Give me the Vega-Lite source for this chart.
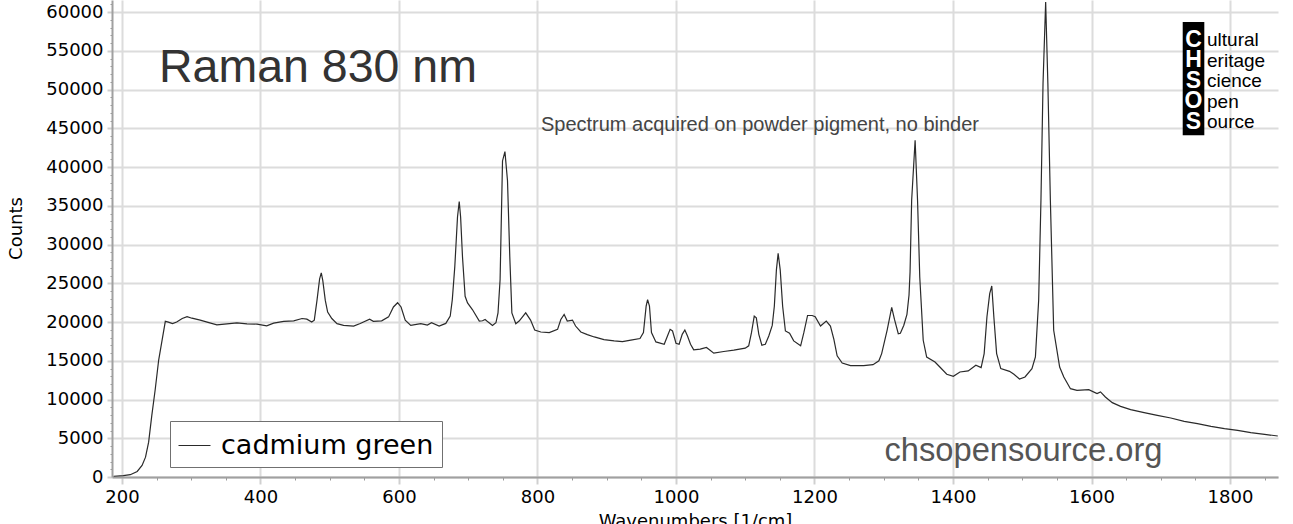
{
  "$schema": "https://vega.github.io/schema/vega-lite/v6.json",
  "width": 1166,
  "height": 477,
  "autosize": {"type": "none"},
  "padding": {"left": 112, "top": 0, "right": 15, "bottom": 47},
  "background": "white",
  "config": {"view": {"stroke": null}},
  "data": {
    "values": [
      {"w": 188, "c": 100}, {"w": 202, "c": 170}, {"w": 212, "c": 300}, {"w": 222, "c": 720},
      {"w": 229, "c": 1500}, {"w": 234, "c": 2560}, {"w": 238.5, "c": 4500}, {"w": 243, "c": 7900},
      {"w": 248, "c": 11300}, {"w": 253, "c": 15100}, {"w": 258, "c": 17700}, {"w": 262.6, "c": 20100},
      {"w": 267, "c": 20000}, {"w": 273, "c": 19800}, {"w": 279, "c": 20000}, {"w": 287, "c": 20460},
      {"w": 294, "c": 20700}, {"w": 301, "c": 20500}, {"w": 313, "c": 20250}, {"w": 323, "c": 20000},
      {"w": 337, "c": 19650}, {"w": 351.6, "c": 19780}, {"w": 366, "c": 19900}, {"w": 380.5, "c": 19780},
      {"w": 395, "c": 19740}, {"w": 409, "c": 19520}, {"w": 419, "c": 19870}, {"w": 433.5, "c": 20080},
      {"w": 448, "c": 20160}, {"w": 460, "c": 20460}, {"w": 467, "c": 20380}, {"w": 474, "c": 20000},
      {"w": 477.7, "c": 20250}, {"w": 481.6, "c": 22800}, {"w": 485.4, "c": 25580}, {"w": 487.8, "c": 26350},
      {"w": 490, "c": 25360}, {"w": 493.6, "c": 22800}, {"w": 497, "c": 21300}, {"w": 503, "c": 20460},
      {"w": 510.5, "c": 19800}, {"w": 520, "c": 19570}, {"w": 534.5, "c": 19480}, {"w": 544, "c": 19820},
      {"w": 557.6, "c": 20380}, {"w": 563, "c": 20100}, {"w": 575, "c": 20160}, {"w": 585, "c": 20670},
      {"w": 592, "c": 21950}, {"w": 598, "c": 22500}, {"w": 603, "c": 21950}, {"w": 609, "c": 20250},
      {"w": 617, "c": 19570}, {"w": 631.5, "c": 19790}, {"w": 641, "c": 19620}, {"w": 647, "c": 19910},
      {"w": 658, "c": 19490}, {"w": 667.6, "c": 19830}, {"w": 674, "c": 20770}, {"w": 677, "c": 22900},
      {"w": 680.6, "c": 27160}, {"w": 684.5, "c": 33560}, {"w": 687, "c": 35560}, {"w": 689, "c": 33560},
      {"w": 691.7, "c": 28440}, {"w": 695.5, "c": 23330}, {"w": 699, "c": 22470}, {"w": 706, "c": 21620},
      {"w": 716, "c": 20130}, {"w": 720.6, "c": 20170}, {"w": 724.4, "c": 20340}, {"w": 728.8, "c": 20000},
      {"w": 735, "c": 19570}, {"w": 740, "c": 19910}, {"w": 743, "c": 21190}, {"w": 746, "c": 25460},
      {"w": 749.5, "c": 40800}, {"w": 753, "c": 42000}, {"w": 756.7, "c": 38250}, {"w": 760, "c": 28440},
      {"w": 763, "c": 21190}, {"w": 768.7, "c": 19790}, {"w": 773.5, "c": 20130}, {"w": 783, "c": 21190},
      {"w": 790, "c": 20260}, {"w": 796, "c": 18980}, {"w": 804.8, "c": 18720}, {"w": 817, "c": 18640},
      {"w": 829, "c": 19060}, {"w": 833.7, "c": 20340}, {"w": 838.5, "c": 20980}, {"w": 843, "c": 20130},
      {"w": 850.5, "c": 20260}, {"w": 855, "c": 19490}, {"w": 862.6, "c": 18720}, {"w": 872, "c": 18380},
      {"w": 882, "c": 18080}, {"w": 896, "c": 17740}, {"w": 910.7, "c": 17570}, {"w": 922.7, "c": 17480},
      {"w": 934.8, "c": 17660}, {"w": 948, "c": 17870}, {"w": 953, "c": 18640}, {"w": 956.9, "c": 22050},
      {"w": 959, "c": 22900}, {"w": 961.7, "c": 22050}, {"w": 964.6, "c": 18640}, {"w": 971, "c": 17440},
      {"w": 983, "c": 17140}, {"w": 987.7, "c": 18210}, {"w": 991.5, "c": 19060}, {"w": 995, "c": 18850},
      {"w": 1000, "c": 17270}, {"w": 1004.5, "c": 17140}, {"w": 1009, "c": 18420}, {"w": 1012.8, "c": 18980},
      {"w": 1016.6, "c": 18210}, {"w": 1021, "c": 17140}, {"w": 1025.6, "c": 16420}, {"w": 1035, "c": 16500},
      {"w": 1044, "c": 16720}, {"w": 1054.6, "c": 15990}, {"w": 1069, "c": 16200}, {"w": 1083.5, "c": 16370},
      {"w": 1100, "c": 16630}, {"w": 1105, "c": 16930}, {"w": 1109, "c": 18630}, {"w": 1113, "c": 20770},
      {"w": 1116, "c": 20550}, {"w": 1119.6, "c": 18420}, {"w": 1124, "c": 17010}, {"w": 1129, "c": 17140},
      {"w": 1134, "c": 18210}, {"w": 1139, "c": 19570}, {"w": 1142, "c": 22050}, {"w": 1145, "c": 26740},
      {"w": 1147.5, "c": 28870}, {"w": 1150.5, "c": 26740}, {"w": 1154, "c": 22050}, {"w": 1158, "c": 18850},
      {"w": 1164, "c": 18550}, {"w": 1170, "c": 17570}, {"w": 1180, "c": 16930}, {"w": 1184.6, "c": 18630},
      {"w": 1190, "c": 20850}, {"w": 1196.6, "c": 20850}, {"w": 1201, "c": 20680}, {"w": 1208.7, "c": 19490},
      {"w": 1217, "c": 20130}, {"w": 1223, "c": 19490}, {"w": 1228, "c": 17780}, {"w": 1232.7, "c": 15650},
      {"w": 1240, "c": 14710}, {"w": 1252, "c": 14370}, {"w": 1271, "c": 14370}, {"w": 1284.5, "c": 14500},
      {"w": 1293, "c": 15010}, {"w": 1297, "c": 15930}, {"w": 1305, "c": 19000}, {"w": 1311.5, "c": 21900},
      {"w": 1315.5, "c": 20340}, {"w": 1321, "c": 18500}, {"w": 1324, "c": 18550}, {"w": 1329, "c": 19600},
      {"w": 1333.5, "c": 21000}, {"w": 1336.5, "c": 23500}, {"w": 1338, "c": 26500}, {"w": 1340.3, "c": 35720},
      {"w": 1345.3, "c": 43470}, {"w": 1348.8, "c": 35720}, {"w": 1352, "c": 25820}, {"w": 1357, "c": 17650},
      {"w": 1362, "c": 15490}, {"w": 1374, "c": 14850}, {"w": 1381, "c": 14200}, {"w": 1391, "c": 13260},
      {"w": 1400.5, "c": 13000}, {"w": 1410, "c": 13560}, {"w": 1422, "c": 13690}, {"w": 1433, "c": 14420},
      {"w": 1440.6, "c": 14120}, {"w": 1445, "c": 15930}, {"w": 1449, "c": 20660}, {"w": 1453, "c": 23670},
      {"w": 1456, "c": 24660}, {"w": 1459, "c": 20660}, {"w": 1463, "c": 15930}, {"w": 1469, "c": 13990},
      {"w": 1481.6, "c": 13640}, {"w": 1488, "c": 13260}, {"w": 1496, "c": 12650}, {"w": 1504, "c": 12910},
      {"w": 1514, "c": 13990}, {"w": 1519, "c": 15490}, {"w": 1523.7, "c": 22810}, {"w": 1527, "c": 35720},
      {"w": 1530, "c": 50790}, {"w": 1533.8, "c": 61330}, {"w": 1537, "c": 50790}, {"w": 1540.6, "c": 35720},
      {"w": 1545.4, "c": 18940}, {"w": 1554, "c": 14200}, {"w": 1560, "c": 12910}, {"w": 1569.6, "c": 11400},
      {"w": 1579, "c": 11190}, {"w": 1596, "c": 11280}, {"w": 1608, "c": 10760}, {"w": 1613, "c": 10980},
      {"w": 1620, "c": 10330}, {"w": 1630, "c": 9600}, {"w": 1642, "c": 9120}, {"w": 1656.5, "c": 8690},
      {"w": 1676, "c": 8310}, {"w": 1695, "c": 7960}, {"w": 1714.5, "c": 7620}, {"w": 1733.8, "c": 7190},
      {"w": 1753, "c": 6890}, {"w": 1772.5, "c": 6540}, {"w": 1792, "c": 6240}, {"w": 1811, "c": 6030},
      {"w": 1830, "c": 5720}, {"w": 1850, "c": 5510}, {"w": 1869, "c": 5290}
    ]
  },
  "encoding": {
    "x": {
      "field": "w",
      "type": "quantitative",
      "title": "Wavenumbers [1/cm]",
      "scale": {"domain": [185.6, 1869.3], "nice": false, "zero": false},
      "axis": {
        "values": [200, 250, 300, 350, 400, 450, 500, 550, 600, 650, 700, 750, 800, 850, 900, 950, 1000, 1050, 1100, 1150, 1200, 1250, 1300, 1350, 1400, 1450, 1500, 1550, 1600, 1650, 1700, 1750, 1800, 1850],
        "format": "d",
        "labelExpr": "datum.value % 200 === 0 ? datum.label : ''",
        "labelOverlap": false,
        "labelFlush": false,
        "grid": true,
        "gridColor": "#dcdcdc",
        "gridWidth": 2,
        "gridOpacity": {"condition": {"test": "datum.value % 200 === 0", "value": 1}, "value": 0},
        "tickSize": {"condition": {"test": "datum.value % 200 === 0", "value": 7}, "value": 3},
        "tickColor": {"condition": {"test": "datum.value % 200 === 0", "value": "#d0d0d0"}, "value": "#999999"},
        "tickWidth": {"condition": {"test": "datum.value % 200 === 0", "value": 2}, "value": 1},
        "domainColor": "#a0a0a0",
        "domainWidth": 2,
        "labelFont": "DejaVu Sans",
        "labelFontSize": 18,
        "labelColor": "#000000",
        "labelPadding": 4,
        "titleFont": "DejaVu Sans",
        "titleFontSize": 18,
        "titleFontWeight": "normal",
        "titleColor": "#000000",
        "titlePadding": 6
      }
    },
    "y": {
      "field": "c",
      "type": "quantitative",
      "title": "Counts",
      "scale": {"domain": [0, 61580], "nice": false},
      "axis": {
        "values": [0, 1000, 2000, 3000, 4000, 5000, 6000, 7000, 8000, 9000, 10000, 11000, 12000, 13000, 14000, 15000, 16000, 17000, 18000, 19000, 20000, 21000, 22000, 23000, 24000, 25000, 26000, 27000, 28000, 29000, 30000, 31000, 32000, 33000, 34000, 35000, 36000, 37000, 38000, 39000, 40000, 41000, 42000, 43000, 44000, 45000, 46000, 47000, 48000, 49000, 50000, 51000, 52000, 53000, 54000, 55000, 56000, 57000, 58000, 59000, 60000, 61000],
        "format": "d",
        "labelExpr": "datum.value % 5000 === 0 ? datum.label : ''",
        "labelOverlap": false,
        "labelFlush": false,
        "grid": true,
        "gridColor": "#dcdcdc",
        "gridWidth": 2,
        "gridOpacity": {"condition": {"test": "datum.value % 5000 === 0", "value": 1}, "value": 0},
        "tickSize": {"condition": {"test": "datum.value % 5000 === 0", "value": 5}, "value": 2},
        "tickColor": {"condition": {"test": "datum.value % 5000 === 0", "value": "#d0d0d0"}, "value": "#999999"},
        "tickWidth": {"condition": {"test": "datum.value % 5000 === 0", "value": 2}, "value": 1},
        "domainColor": "#a0a0a0",
        "domainWidth": 2,
        "labelFont": "DejaVu Sans",
        "labelFontSize": 18,
        "labelColor": "#000000",
        "labelPadding": 4,
        "titleFont": "DejaVu Sans",
        "titleFontSize": 18,
        "titleFontWeight": "normal",
        "titleColor": "#000000",
        "titleAngle": -90,
        "titleAlign": "center",
        "titleBaseline": "middle",
        "titleX": -96,
        "titleY": 228
      }
    }
  },
  "layer": [
    {
      "mark": {"type": "line", "strokeWidth": 1.2, "interpolate": "linear"},
      "encoding": {
        "color": {
          "datum": "cadmium green",
          "scale": {"range": ["#2a2a2a"]},
          "legend": {
            "title": null,
            "orient": "none",
            "legendX": 58,
            "legendY": 421,
            "direction": "vertical",
            "fillColor": "#ffffff",
            "strokeColor": "#707070",
            "padding": 8,
            "symbolType": "stroke",
            "symbolSize": 1024,
            "symbolStrokeWidth": 1,
            "symbolStrokeColor": "#555555",
            "labelFont": "DejaVu Sans",
            "labelFontSize": 27,
            "labelColor": "#000000",
            "labelOffset": 10,
            "labelLimit": 400
          }
        }
      }
    },
    {
      "data": {"values": [{"w": 1731.7, "w2": 1762.9, "c": 58748, "c2": 44119}]},
      "mark": {"type": "rect", "color": "#000000"},
      "encoding": {"x2": {"field": "w2"}, "y2": {"field": "c2"}}
    },
    {
      "data": {"values": [
        {"w": 1747.3, "c": 55520, "t": "C"},
        {"w": 1747.3, "c": 52873, "t": "H"},
        {"w": 1747.3, "c": 50226, "t": "S"},
        {"w": 1747.3, "c": 47579, "t": "O"},
        {"w": 1747.3, "c": 44932, "t": "S"}
      ]},
      "mark": {"type": "text", "align": "center", "baseline": "alphabetic", "font": "Liberation Sans", "fontWeight": "bold", "fontSize": 23, "color": "#ffffff"},
      "encoding": {"text": {"field": "t"}}
    },
    {
      "data": {"values": [
        {"w": 1766.8, "c": 55600, "t": "ultural"},
        {"w": 1766.8, "c": 52950, "t": "eritage"},
        {"w": 1766.8, "c": 50300, "t": "cience"},
        {"w": 1766.8, "c": 47650, "t": "pen"},
        {"w": 1766.8, "c": 45000, "t": "ource"}
      ]},
      "mark": {"type": "text", "align": "left", "baseline": "alphabetic", "font": "Liberation Sans", "fontSize": 19, "color": "#000000"},
      "encoding": {"text": {"field": "t"}}
    },
    {
      "data": {"values": [{"w": 253.5, "c": 51000, "t": "Raman 830 nm"}]},
      "mark": {"type": "text", "align": "left", "baseline": "alphabetic", "font": "Liberation Sans", "fontSize": 46.5, "color": "#333333"},
      "encoding": {"text": {"field": "t"}}
    },
    {
      "data": {"values": [{"w": 805, "c": 44675, "t": "Spectrum acquired on powder pigment, no binder"}]},
      "mark": {"type": "text", "align": "left", "baseline": "alphabetic", "font": "Liberation Sans", "fontSize": 20, "color": "#444444"},
      "encoding": {"text": {"field": "t"}}
    },
    {
      "data": {"values": [{"w": 1301, "c": 2066, "t": "chsopensource.org"}]},
      "mark": {"type": "text", "align": "left", "baseline": "alphabetic", "font": "Liberation Sans", "fontSize": 32.7, "color": "#555555"},
      "encoding": {"text": {"field": "t"}}
    }
  ]
}
